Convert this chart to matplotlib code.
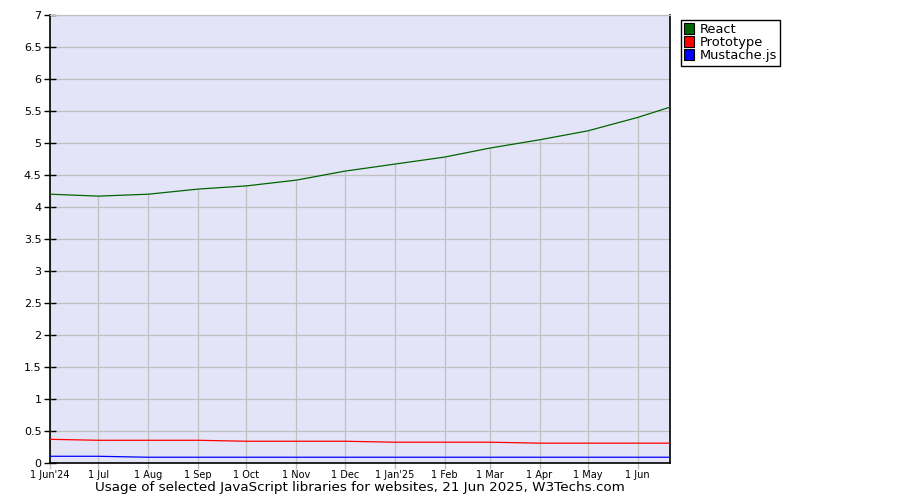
import matplotlib
matplotlib.use("Agg")
import matplotlib.pyplot as plt
from matplotlib.patches import Patch
import numpy as np
from datetime import date

# monthly samples, last point is the report date
dates = [date(2024, 6, 1), date(2024, 7, 1), date(2024, 8, 1), date(2024, 9, 1),
         date(2024, 10, 1), date(2024, 11, 1), date(2024, 12, 1), date(2025, 1, 1),
         date(2025, 2, 1), date(2025, 3, 1), date(2025, 4, 1), date(2025, 5, 1),
         date(2025, 6, 1), date(2025, 6, 21)]
tick_dates = dates[:-1]
tick_labels = ["1 Jun'24", "1 Jul", "1 Aug", "1 Sep", "1 Oct", "1 Nov", "1 Dec",
               "1 Jan'25", "1 Feb", "1 Mar", "1 Apr", "1 May", "1 Jun"]

react = [4.20, 4.17, 4.20, 4.28, 4.33, 4.42, 4.56, 4.67, 4.78, 4.92, 5.05, 5.19, 5.40, 5.56]
prototype = [0.37, 0.355, 0.355, 0.355, 0.34, 0.34, 0.34, 0.325, 0.325, 0.325, 0.31, 0.31, 0.31, 0.31]
mustache = [0.105, 0.105, 0.09, 0.09, 0.09, 0.09, 0.09, 0.09, 0.09, 0.09, 0.09, 0.09, 0.09, 0.09]

series = [("React", react, "#006400"), ("Prototype", prototype, "#ff0000"),
          ("Mustache.js", mustache, "#0000ff")]

plt.rcParams['font.family'] = ['DejaVu Sans']
grid_col = "#c0c0c0"

fig = plt.figure(figsize=(9, 5), dpi=100)
ax = fig.add_axes([50 / 900, 37 / 500, 620 / 900, 448 / 500])
ax.set_facecolor("#e4e4f8")

for name, vals, col in series:
    ax.plot(dates, vals, color=col, lw=0.9, zorder=3)

ax.set_xlim(dates[0], dates[-1])
ax.set_ylim(0, 7)
yt = np.arange(0, 7.01, 0.5)
ax.set_yticks(yt)
ax.set_yticklabels(["%g" % v for v in yt], fontsize=8)
ax.set_xticks(tick_dates)
ax.set_xticklabels(tick_labels, fontsize=7)

# horizontal grid across, vertical grid only up to the top series
ax.grid(True, axis="y", color=grid_col, lw=0.9, zorder=1)
ax.vlines(tick_dates, 0, react[:-1], color=grid_col, lw=0.9, zorder=1)
ax.set_axisbelow(True)
ax.tick_params(axis="y", direction="inout", length=8, width=1, color="black", pad=2)
ax.tick_params(axis="x", direction="out", length=4, width=1, color=grid_col, pad=1)

for s in ["left", "bottom", "right"]:
    ax.spines[s].set_color("black")
    ax.spines[s].set_linewidth(1.2)
ax.spines["top"].set_color(grid_col)
ax.spines["top"].set_linewidth(0.9)

fig.text(360 / 900, 1 - 488 / 500, "Usage of selected JavaScript libraries for websites, 21 Jun 2025, W3Techs.com",
         ha="center", va="center", fontsize=9.7)

handles = [Patch(facecolor=c, edgecolor="black", lw=0.8) for _, _, c in series]
leg = fig.legend(handles, [n for n, _, _ in series], loc="upper left",
                 bbox_to_anchor=(681 / 900, 1 - 20 / 500), fontsize=9.4,
                 handlelength=0.75, handleheight=0.9, handletextpad=0.4,
                 labelspacing=0.0, borderpad=0.25, borderaxespad=0,
                 fancybox=False, framealpha=1, edgecolor="black")
leg.get_frame().set_linewidth(1)

fig.savefig("out.png", dpi=100)
